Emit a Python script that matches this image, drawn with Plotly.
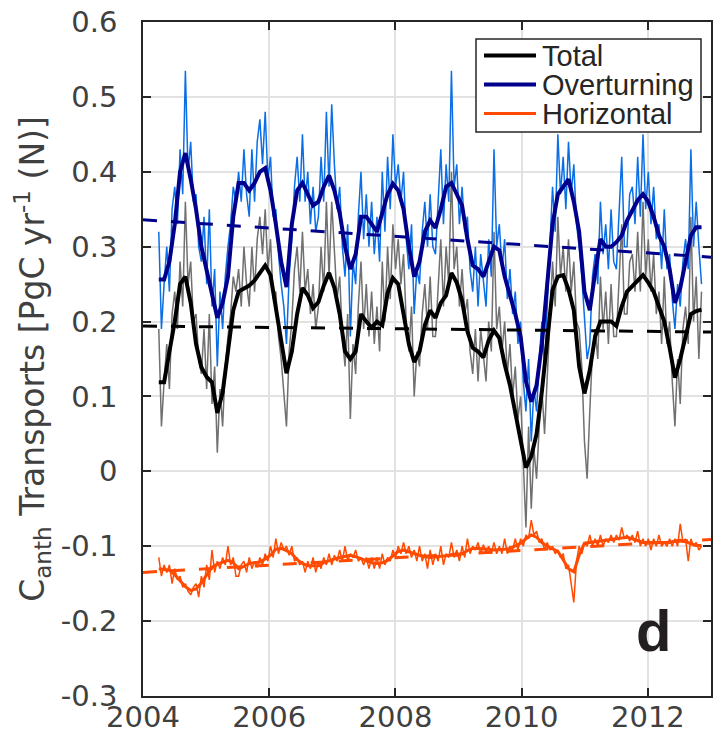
import numpy as np
import plotly.graph_objects as go

# ---------------- data ----------------
start_year = 2004.25
end_year = 2012.85

over_smooth = [0.256,0.256,0.28,0.33,0.40,0.425,0.39,0.35,0.30,0.27,
0.24,0.205,0.225,0.26,0.34,0.385,0.385,0.375,0.385,0.40,
0.405,0.375,0.33,0.28,0.246,0.33,0.375,0.385,0.37,0.355,
0.36,0.38,0.395,0.375,0.345,0.30,0.27,0.29,0.34,0.34,
0.33,0.32,0.345,0.37,0.384,0.375,0.35,0.30,0.26,0.28,
0.32,0.335,0.325,0.35,0.38,0.385,0.37,0.355,0.31,0.275,
0.27,0.26,0.28,0.30,0.295,0.26,0.235,0.21,0.18,0.12,
0.093,0.115,0.17,0.245,0.33,0.37,0.38,0.39,0.36,0.32,
0.24,0.215,0.265,0.31,0.30,0.30,0.306,0.315,0.335,0.35,
0.362,0.37,0.36,0.34,0.315,0.30,0.27,0.225,0.245,0.28,
0.315,0.326,0.326]

total_smooth = [0.119,0.119,0.16,0.20,0.25,0.26,0.225,0.17,0.139,0.126,
0.119,0.078,0.105,0.16,0.215,0.24,0.244,0.248,0.255,0.264,
0.275,0.262,0.22,0.17,0.131,0.16,0.21,0.245,0.235,0.218,
0.226,0.248,0.265,0.245,0.21,0.16,0.15,0.16,0.21,0.20,
0.192,0.20,0.195,0.238,0.258,0.25,0.21,0.17,0.146,0.16,
0.195,0.215,0.205,0.225,0.235,0.265,0.252,0.228,0.187,0.165,
0.16,0.152,0.175,0.188,0.178,0.143,0.115,0.079,0.043,0.005,
0.02,0.05,0.107,0.18,0.242,0.26,0.262,0.243,0.215,0.14,
0.104,0.135,0.18,0.20,0.20,0.20,0.194,0.22,0.24,0.248,
0.255,0.262,0.252,0.24,0.22,0.20,0.165,0.125,0.15,0.18,
0.21,0.214,0.216]

horiz_smooth = [-0.13,-0.131,-0.132,-0.138,-0.146,-0.154,-0.159,-0.157,-0.149,-0.138,
-0.128,-0.124,-0.121,-0.119,-0.122,-0.13,-0.127,-0.123,-0.122,-0.121,
-0.117,-0.112,-0.104,-0.103,-0.106,-0.11,-0.118,-0.123,-0.126,-0.126,
-0.126,-0.122,-0.119,-0.117,-0.115,-0.113,-0.112,-0.114,-0.117,-0.12,
-0.122,-0.123,-0.122,-0.119,-0.113,-0.107,-0.105,-0.107,-0.109,-0.112,
-0.114,-0.115,-0.114,-0.113,-0.112,-0.112,-0.112,-0.11,-0.106,-0.103,
-0.103,-0.103,-0.104,-0.105,-0.105,-0.104,-0.103,-0.1,-0.096,-0.09,
-0.085,-0.088,-0.095,-0.1,-0.103,-0.107,-0.118,-0.13,-0.134,-0.112,
-0.096,-0.095,-0.095,-0.094,-0.092,-0.091,-0.09,-0.089,-0.088,-0.09,
-0.093,-0.095,-0.095,-0.095,-0.095,-0.096,-0.095,-0.093,-0.092,-0.094,
-0.096,-0.099,-0.099]

over_raw = [0.32,0.19,0.25,0.30,0.24,0.35,0.38,0.33,0.43,0.37,0.535,0.40,0.44,0.36,0.37,0.30,0.28,0.34,0.25,0.35,
0.22,0.27,0.14,0.24,0.19,0.26,0.30,0.33,0.38,0.36,0.40,0.36,0.43,0.37,0.34,0.43,0.36,0.44,0.47,0.41,
0.48,0.39,0.42,0.34,0.35,0.29,0.25,0.22,0.17,0.26,0.31,0.38,0.42,0.36,0.45,0.36,0.40,0.33,0.38,0.32,
0.34,0.42,0.36,0.48,0.38,0.49,0.41,0.35,0.38,0.30,0.26,0.33,0.18,0.28,0.25,0.34,0.40,0.31,0.37,0.30,
0.36,0.29,0.34,0.28,0.40,0.32,0.42,0.35,0.45,0.38,0.41,0.36,0.40,0.31,0.27,0.33,0.21,0.27,0.25,0.32,
0.36,0.30,0.37,0.30,0.29,0.36,0.43,0.33,0.41,0.36,0.535,0.38,0.41,0.33,0.38,0.32,0.34,0.27,0.24,0.30,
0.22,0.29,0.25,0.22,0.31,0.26,0.43,0.30,0.33,0.27,0.31,0.23,0.27,0.21,0.24,0.17,0.20,0.12,0.08,0.15,
0.04,0.11,0.08,0.15,0.20,0.14,0.22,0.30,0.38,0.32,0.45,0.37,0.42,0.35,0.44,0.37,0.41,0.33,0.30,0.26,
0.20,0.15,0.17,0.26,0.29,0.25,0.36,0.29,0.33,0.27,0.35,0.28,0.27,0.34,0.42,0.30,0.30,0.37,0.38,0.33,
0.42,0.34,0.45,0.35,0.40,0.33,0.38,0.31,0.33,0.27,0.35,0.27,0.29,0.23,0.19,0.25,0.22,0.28,0.31,0.27,
0.43,0.30,0.36,0.30,0.25]

total_raw = [0.19,0.06,0.12,0.17,0.11,0.21,0.24,0.19,0.28,0.22,0.36,0.25,0.28,0.20,0.21,0.15,0.13,0.19,0.11,0.21,
0.09,0.14,0.025,0.11,0.06,0.14,0.18,0.21,0.26,0.24,0.27,0.22,0.30,0.25,0.22,0.30,0.24,0.31,0.34,0.29,
0.35,0.27,0.31,0.23,0.24,0.18,0.15,0.11,0.06,0.16,0.20,0.27,0.30,0.24,0.32,0.24,0.27,0.21,0.25,0.19,
0.22,0.30,0.24,0.36,0.26,0.36,0.29,0.23,0.26,0.18,0.14,0.21,0.07,0.17,0.13,0.22,0.28,0.19,0.25,0.18,
0.24,0.17,0.22,0.16,0.28,0.20,0.30,0.23,0.33,0.27,0.31,0.25,0.29,0.20,0.16,0.22,0.10,0.16,0.14,0.21,
0.25,0.19,0.26,0.18,0.18,0.25,0.31,0.22,0.30,0.25,0.40,0.27,0.30,0.22,0.27,0.21,0.23,0.16,0.13,0.19,
0.12,0.19,0.15,0.12,0.20,0.16,0.32,0.19,0.22,0.16,0.20,0.13,0.17,0.10,0.14,0.07,0.10,0.02,-0.075,0.06,
-0.05,0.03,-0.01,0.06,0.11,0.05,0.12,0.20,0.28,0.22,0.34,0.26,0.30,0.24,0.31,0.24,0.28,0.20,0.19,0.14,
0.04,-0.01,0.08,0.16,0.19,0.15,0.26,0.19,0.24,0.17,0.25,0.18,0.18,0.25,0.33,0.21,0.21,0.28,0.29,0.24,
0.32,0.24,0.36,0.26,0.31,0.24,0.29,0.21,0.24,0.17,0.26,0.17,0.20,0.12,0.06,0.15,0.09,0.19,0.22,0.17,
0.34,0.20,0.26,0.15,0.24]

horiz_raw = [-0.115,-0.14,-0.125,-0.135,-0.125,-0.15,-0.13,-0.145,-0.14,-0.155,-0.15,-0.16,-0.165,-0.155,-0.15,-0.168,-0.14,-0.155,-0.125,-0.145,
-0.105,-0.135,-0.12,-0.13,-0.115,-0.125,-0.1,-0.125,-0.115,-0.14,-0.14,-0.125,-0.12,-0.135,-0.115,-0.13,-0.12,-0.128,-0.115,-0.125,
-0.11,-0.12,-0.1,-0.115,-0.09,-0.11,-0.095,-0.105,-0.1,-0.112,-0.1,-0.12,-0.115,-0.125,-0.12,-0.135,-0.12,-0.13,-0.115,-0.135,
-0.12,-0.13,-0.115,-0.125,-0.11,-0.125,-0.112,-0.12,-0.105,-0.12,-0.1,-0.12,-0.11,-0.115,-0.105,-0.12,-0.115,-0.125,-0.115,-0.13,
-0.115,-0.13,-0.115,-0.13,-0.11,-0.125,-0.115,-0.12,-0.105,-0.115,-0.1,-0.11,-0.095,-0.11,-0.1,-0.115,-0.105,-0.12,-0.1,-0.12,
-0.11,-0.13,-0.105,-0.125,-0.11,-0.12,-0.1,-0.125,-0.11,-0.115,-0.095,-0.115,-0.105,-0.12,-0.1,-0.115,-0.09,-0.11,-0.1,-0.105,
-0.095,-0.11,-0.098,-0.108,-0.1,-0.11,-0.095,-0.11,-0.1,-0.11,-0.09,-0.11,-0.1,-0.105,-0.09,-0.105,-0.09,-0.1,-0.085,-0.09,
-0.065,-0.085,-0.08,-0.095,-0.09,-0.105,-0.095,-0.105,-0.1,-0.11,-0.105,-0.115,-0.11,-0.13,-0.125,-0.15,-0.175,-0.12,-0.1,-0.11,
-0.095,-0.1,-0.085,-0.1,-0.09,-0.1,-0.085,-0.1,-0.09,-0.095,-0.085,-0.095,-0.085,-0.092,-0.075,-0.09,-0.085,-0.093,-0.085,-0.095,
-0.08,-0.1,-0.09,-0.1,-0.09,-0.105,-0.09,-0.1,-0.085,-0.1,-0.095,-0.1,-0.09,-0.1,-0.09,-0.1,-0.07,-0.095,-0.09,-0.12,
-0.09,-0.1,-0.095,-0.105,-0.1]

trend_years = [2004.0, 2013.0]
over_trend = [0.336, 0.286]
total_trend = [0.194, 0.186]
horiz_trend = [-0.135, -0.091]

series_names = ["Total", "Overturning", "Horizontal"]
x_tickvals = [2004, 2006, 2008, 2010, 2012]
x_ticktext = ["2004", "2006", "2008", "2010", "2012"]
y_tickvals = [-0.3, -0.2, -0.1, 0, 0.1, 0.2, 0.3, 0.4, 0.5, 0.6]
y_ticktext = ["-0.3", "-0.2", "-0.1", "0", "0.1", "0.2", "0.3", "0.4", "0.5", "0.6"]

# ---------------- styles ----------------
C_BLUE_RAW = "#0a6ee6"
C_NAVY = "#00008c"
C_GRAY = "#707070"
C_BLACK = "#000000"
C_ORANGE = "#ff4a00"
FONT = "Liberation Sans, Arial, Helvetica, sans-serif"
WIDE_FONT = "DejaVu Sans, Liberation Sans, Arial, sans-serif"
AX = "#262626"
TXT = "#404040"

def tgrid(n):
    return np.linspace(start_year, end_year, n)

fig = go.Figure()

# raw series (thin)
fig.add_trace(go.Scatter(x=tgrid(len(over_raw)), y=over_raw, mode="lines",
                         line=dict(color=C_BLUE_RAW, width=1.5), showlegend=False))
fig.add_trace(go.Scatter(x=tgrid(len(total_raw)), y=total_raw, mode="lines",
                         line=dict(color=C_GRAY, width=1.5), showlegend=False))
fig.add_trace(go.Scatter(x=tgrid(len(horiz_raw)), y=horiz_raw, mode="lines",
                         line=dict(color=C_ORANGE, width=1.5), showlegend=False))

# smoothed series (thick)
fig.add_trace(go.Scatter(x=tgrid(len(over_smooth)), y=over_smooth, mode="lines",
                         line=dict(color=C_NAVY, width=4), name=series_names[1], showlegend=False))
fig.add_trace(go.Scatter(x=tgrid(len(total_smooth)), y=total_smooth, mode="lines",
                         line=dict(color=C_BLACK, width=4), name=series_names[0], showlegend=False))
fig.add_trace(go.Scatter(x=tgrid(len(horiz_smooth)), y=horiz_smooth, mode="lines",
                         line=dict(color=C_ORANGE, width=3), name=series_names[2], showlegend=False))

# linear trends (dashed)
for yv, col in [(over_trend, C_NAVY), (total_trend, C_BLACK), (horiz_trend, C_ORANGE)]:
    fig.add_trace(go.Scatter(x=trend_years, y=yv, mode="lines",
                             line=dict(color=col, width=3, dash="14px,14px"), showlegend=False))

# ---------------- layout ----------------
W, H = 721, 733
ML, MR, MT, MB = 143, 10, 22, 37
PW, PH = W - ML - MR, H - MT - MB

def px(xp):
    return (xp - ML) / PW

def py(yp):
    return (H - MB - yp) / PH

axis_common = dict(showline=True, linecolor=AX, linewidth=1.5, mirror="ticks",
                   ticks="inside", ticklen=8, tickwidth=1.5, tickcolor=AX,
                   showgrid=True, gridcolor="#e2e2e2", gridwidth=1.5, zeroline=False,
                   tickfont=dict(family=WIDE_FONT, size=29, color=TXT))

fig.update_layout(
    width=W, height=H, margin=dict(l=ML, r=MR, t=MT, b=MB, autoexpand=False),
    paper_bgcolor="white", plot_bgcolor="white", showlegend=False,
    xaxis=dict(range=[2004, 2013], tickmode="array", tickvals=x_tickvals, ticktext=x_ticktext,
               ticklabelstandoff=-6, **axis_common),
    yaxis=dict(range=[-0.3, 0.6], tickmode="array", tickvals=y_tickvals, ticktext=y_ticktext,
               ticklabelstandoff=18,
               title=dict(text="C<sub>anth</sub> Transports [PgC yr<sup>-1</sup> (N)]",
                          font=dict(family=WIDE_FONT, size=33, color=TXT), standoff=6),
               **axis_common),
)

# manual legend box
lx0, lx1, ly0, ly1 = 476, 701, 39, 132
fig.add_shape(type="rect", xref="paper", yref="paper",
              x0=px(lx0), x1=px(lx1), y0=py(ly1), y1=py(ly0),
              line=dict(color=AX, width=1.5), fillcolor="white", layer="above")
leg_rows = [55.5, 84.5, 113.5]
leg_cols = [C_BLACK, C_NAVY, C_ORANGE]
leg_w = [4, 4, 3]
for name, row, col, lw in zip(series_names, leg_rows, leg_cols, leg_w):
    fig.add_shape(type="line", xref="paper", yref="paper",
                  x0=px(484), x1=px(536), y0=py(row), y1=py(row),
                  line=dict(color=col, width=lw), layer="above")
    fig.add_annotation(xref="paper", yref="paper", x=px(540), y=py(row),
                       xanchor="left", yanchor="middle", text=name, showarrow=False,
                       font=dict(family=FONT, size=29, color=AX))

# panel letter
fig.add_annotation(xref="paper", yref="paper", x=px(653), y=py(630),
                   xanchor="center", yanchor="middle", text="<b>d</b>", showarrow=False,
                   font=dict(family=FONT, size=58, color="#231f20"))

fig.write_html("out.html")
